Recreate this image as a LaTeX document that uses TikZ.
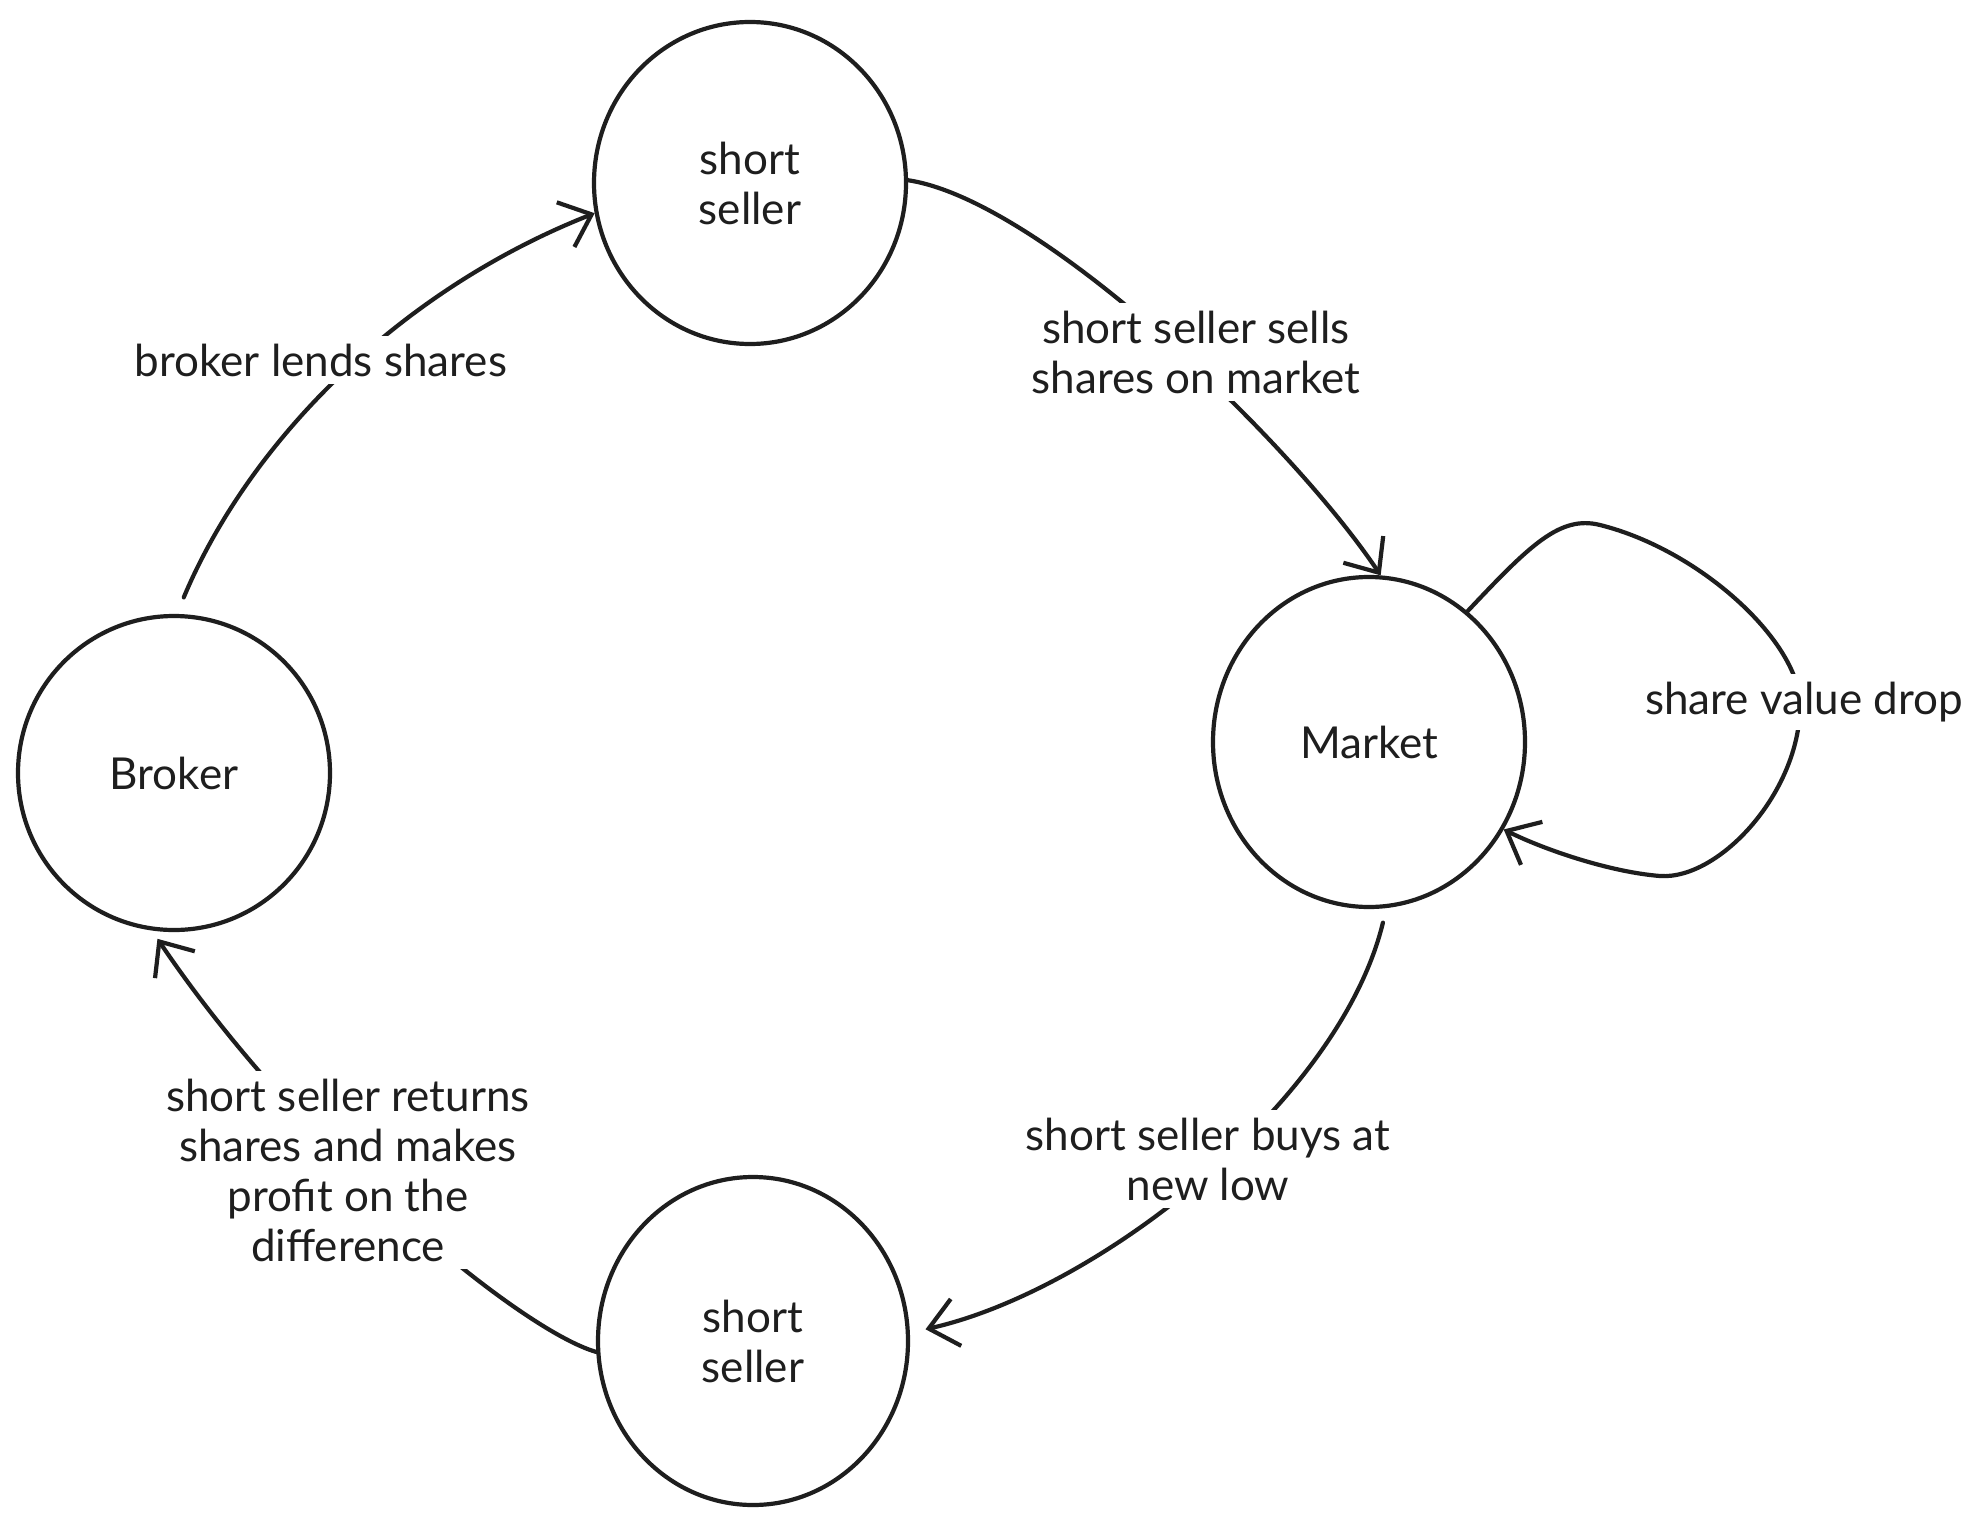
\documentclass[tikz,border=0pt]{standalone}
\usepackage{fontspec}
\setmainfont{Lato}
\usetikzlibrary{arrows.meta,shapes.geometric}
\definecolor{ink}{HTML}{1E1E1E}
\begin{document}
\begin{tikzpicture}[x=1pt,y=-1pt,
  txt/.style={font=\fontsize{44}{50}\selectfont, text=ink},
  state/.style={draw=ink, line width=4.2pt, ellipse, inner sep=0pt, txt, align=center},
  lbl/.style={fill=white, inner sep=8pt, align=center, txt},
  conn/.style={draw=ink, line width=4.2pt, line cap=round,
    -{Straight Barb[length=28pt,width=48pt,line width=4.2pt]}}]
\useasboundingbox (0,0) rectangle (1984,1525);
\fill[white] (0,0) rectangle (1984,1525);

\node[state, minimum width=312pt, minimum height=322pt] (top) at (750,183) {short\\ seller};
\node[state, minimum width=312pt, minimum height=314pt] (broker) at (174,773) {Broker};
\node[state, minimum width=312pt, minimum height=330pt] (market) at (1369,742) {Market};
\node[state, minimum width=310pt, minimum height=328pt] (bottom) at (753,1341) {short\\ seller};

% connectors
\draw[conn, shorten <=18pt] (broker.89) .. controls (250,440) and (400,290) .. (top.191);
\draw[conn] (top.1.5) .. controls (1040,200) and (1290,440) .. (market.86);
\draw[conn] (market.53) .. controls (1530,545) and (1560,515) .. (1600,525)
   .. controls (1700,550) and (1797,640) .. (1800,702)
   .. controls (1802,790) and (1720,880) .. (1660,876)
   .. controls (1610,872) and (1545,850) .. (market.327);
\draw[conn, shorten <=15pt, shorten >=16pt] (market.276) .. controls (1340,1100) and (1100,1290) .. (bottom.3);
\draw[conn, shorten >=10pt] (bottom.184) .. controls (520,1330) and (300,1150) .. (broker.262.5);

% labels
\node[lbl] (l1) at (321,360) {broker lends shares};
\node[lbl] (l2) at (1196,352) {short seller sells\\shares on market};
\node[lbl] (l3) at (1804,702) {share value drop};
\node[lbl] (l4) at (1208,1159) {short seller buys at\\new low};
\node[lbl] (l5) at (348,1170) {short seller returns\\shares and makes\\profit on the\\difference};
\end{tikzpicture}
\end{document}
